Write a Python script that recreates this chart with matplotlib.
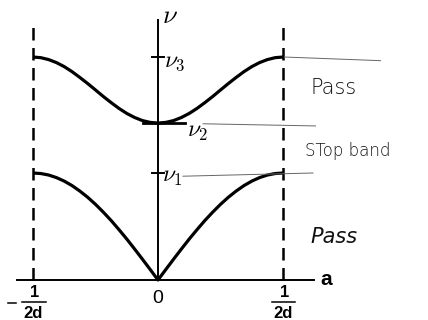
import matplotlib
matplotlib.use("Agg")
from matplotlib import pyplot as plt

plt.rcParams['mathtext.fontset'] = 'cm'

# wave number a, in units of 1/(2d)
a_vals = [-1.0, -0.9375, -0.875, -0.8125, -0.75, -0.6875, -0.625, -0.5625,
          -0.5, -0.4375, -0.375, -0.3125, -0.25, -0.1875, -0.125, -0.0625, 0.0,
          0.0625, 0.125, 0.1875, 0.25, 0.3125, 0.375, 0.4375, 0.5,
          0.5625, 0.625, 0.6875, 0.75, 0.8125, 0.875, 0.9375, 1.0]

# lower branch, nu in units of nu_1
nu_low = [1.0, 0.995, 0.981, 0.957, 0.924, 0.882, 0.831, 0.773,
          0.707, 0.634, 0.556, 0.471, 0.383, 0.290, 0.195, 0.098, 0.0,
          0.098, 0.195, 0.290, 0.383, 0.471, 0.556, 0.634, 0.707,
          0.773, 0.831, 0.882, 0.924, 0.957, 0.981, 0.995, 1.0]

# upper branch
nu_up = [2.084, 2.078, 2.060, 2.032, 1.994, 1.947, 1.893, 1.836,
         1.776, 1.715, 1.658, 1.604, 1.557, 1.519, 1.490, 1.473, 1.467,
         1.473, 1.490, 1.519, 1.557, 1.604, 1.658, 1.715, 1.776,
         1.836, 1.893, 1.947, 1.994, 2.032, 2.060, 2.078, 2.084]

nu1, nu2, nu3 = 1.0, 1.467, 2.084
band_labels = [r'$\nu_\mathbf{1}$', r'$\nu_\mathbf{2}$', r'$\nu_\mathbf{3}$']

fig = plt.figure(figsize=(4.28, 3.2), dpi=100)
ax = fig.add_axes([0, 0, 1, 1])
ax.axis('off')
ax.set_xlim(-1.264, 2.16)
ax.set_ylim(-0.374, 2.617)

# axes
ax.plot([-1.128, 1.248], [0, 0], color='black', lw=1.4)
ax.plot([0, 0], [0, 2.43], color='black', lw=1.4)

# zone boundaries
for xb in [-1, 1]:
    ax.plot([xb, xb], [0, 2.41], color='black', lw=1.8, dashes=(5, 3))

# dispersion curves
ax.plot(a_vals, nu_low, color='black', lw=2.3, solid_capstyle='butt')
ax.plot(a_vals, nu_up, color='black', lw=2.3, solid_capstyle='butt')

# tick marks on nu axis
ax.plot([-0.048, 0.048], [nu3, nu3], color='black', lw=1.4)
ax.plot([-0.048, 0.048], [nu1, nu1], color='black', lw=1.4)
ax.plot([-0.12, 0.216], [nu2, nu2], color='black', lw=2.0)

# pencil lines
pencil = '#666666'
ax.plot([1.01, 1.78], [2.084, 2.05], color=pencil, lw=0.7)
ax.plot([0.36, 1.26], [1.46, 1.44], color=pencil, lw=0.7)
ax.plot([0.2, 1.24], [0.97, 1.0], color=pencil, lw=0.7)

# labels
ax.text(0.035, 2.47, r'$\nu$', fontsize=19, ha='left', va='center')
ax.text(0.05, nu3 - 0.04, band_labels[2], fontsize=17, ha='left', va='center')
ax.text(0.23, nu2 - 0.07, band_labels[1], fontsize=17, ha='left', va='center')
ax.text(0.035, nu1 - 0.03, band_labels[0], fontsize=17, ha='left', va='center')

ax.text(1.30, 0.0, 'a', fontsize=15, fontweight='bold', family='Liberation Sans',
        ha='left', va='center')
ax.text(0.0, -0.17, '0', fontsize=14, family='Liberation Sans', ha='center', va='center')

for xb in [-1, 1]:
    ax.text(xb + 0.01, -0.12, '1', fontsize=12, fontweight='bold',
            family='Liberation Sans', ha='center', va='center')
    ax.plot([xb - 0.09, xb + 0.1], [-0.205, -0.205], color='black', lw=1.1)
    ax.text(xb, -0.315, '2d', fontsize=12, fontweight='bold',
            family='Liberation Sans', ha='center', va='center')
ax.plot([-1.2, -1.136], [-0.215, -0.215], color='black', lw=1.1)

# handwritten notes
hand = '#111111'
ax.text(1.22, 1.79, 'Pass', fontsize=15, color=hand, family='DejaVu Sans',
        fontweight='light', ha='left', va='center')
ax.text(1.18, 1.21, 'STop band', fontsize=12, color=hand, family='DejaVu Sans',
        fontweight='light', ha='left', va='center')
ax.text(1.22, 0.40, 'Pass', fontsize=15, color=hand, family='DejaVu Sans',
        fontweight='light', style='italic', ha='left', va='center')

fig.savefig('out.png', dpi=100)
